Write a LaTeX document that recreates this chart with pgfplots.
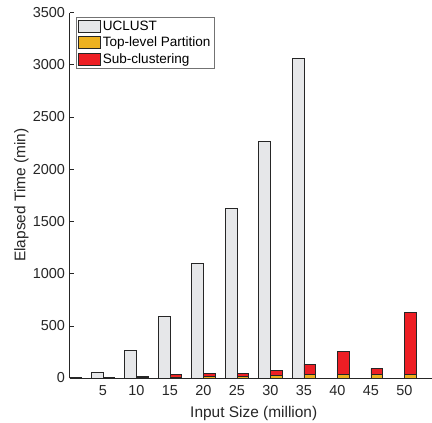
\documentclass[border=0pt]{standalone}
\usepackage{fontspec}
\setmainfont{Liberation Sans}
\usepackage{pgfplots}
\usepackage{pgfplotstable}
\pgfplotsset{compat=1.18}

\definecolor{ucgray}{RGB}{230,231,233}
\definecolor{toporange}{RGB}{237,177,32}
\definecolor{subred}{RGB}{237,30,36}
\definecolor{axgray}{RGB}{38,38,38}

% elapsed time (min) per input size (million)
\pgfplotstableread{
x  uclust top sub
0  2      2   3
5  54     4   4
10 268    6   8
15 593    10  22
20 1097   13  32
25 1622   17  28
30 2269   25  45
35 3062   32  102
40 0      37  218
45 0      38  53
50 0      38  592
}\timing

\pgfplotsset{
  base/.style={
    scale only axis, width=368.5bp, height=365.5bp,
    at={(69.5bp,45bp)}, anchor=south west,
    xmin=0, xmax=55, ymin=0, ymax=3500,
  },
  legbox/.style={legend image code/.code={%
    \draw[##1] (0bp,-6bp) rectangle (22.5bp,6bp);}},
}

\begin{document}
\begin{tikzpicture}
\begin{axis}[base,
  axis x line*=bottom, axis y line*=left,
  xtick={5,10,...,50}, ytick={0,500,...,3500},
  tick align=inside, major tick length=4bp,
  tick style={axgray, line width=0.5bp},
  axis line style={axgray, line width=0.6bp},
  tick label style={font=\fontsize{14.5}{17}\selectfont, text=axgray},
  xticklabel style={yshift=-4bp},
  yticklabel style={xshift=-1bp},
  /pgf/number format/assume math mode=true,
  /pgf/number format/1000 sep={},
  xlabel={Input Size (million)},
  ylabel={Elapsed Time (min)},
  label style={font=\fontsize{15.5}{18}\selectfont, text=axgray},
  xlabel style={at={(axis description cs:0.5,0)}, anchor=center, yshift=-35.5bp},
  ylabel style={at={([xshift=-48bp]axis description cs:0,0.5)}, anchor=center},
]
\addplot[ybar, bar width=1.75, bar shift=-0.875, fill=ucgray, draw=black!85, line width=0.6bp]
  table[x=x, y=uclust] {\timing};
\end{axis}

\begin{axis}[base, hide axis, ybar stacked, bar width=1.75, bar shift=0.875,
  legend style={at={(axis description cs:0.0176,0.987)}, anchor=north west,
    draw=black!55, line width=0.5bp, inner sep=1.5bp,
    font=\fontsize{13.6}{15}\selectfont, text=black,
    row sep=1bp},
  legend cell align=left,
]
\addlegendimage{legbox, fill=ucgray, draw=black!85, line width=0.6bp}
\addlegendentry{UCLUST}
\addplot[fill=toporange, draw=black!85, line width=0.6bp, legbox]
  table[x=x, y=top] {\timing};
\addlegendentry{Top-level Partition}
\addplot[fill=subred, draw=black!85, line width=0.6bp, legbox]
  table[x=x, y=sub] {\timing};
\addlegendentry{Sub-clustering}
\end{axis}

\pgfresetboundingbox
\path (0,0) rectangle (432bp,423bp);
\end{tikzpicture}
\end{document}
